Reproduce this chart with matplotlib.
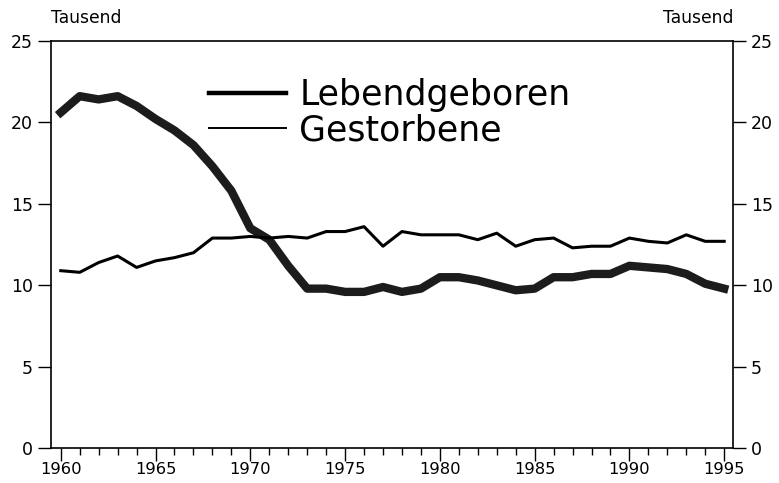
import matplotlib.pyplot as plt
from matplotlib.lines import Line2D
import numpy as np

plt.rcParams['font.family'] = ['DejaVu Sans']

years = np.arange(1960, 1996)
lebendgeboren = [20.6, 21.6, 21.4, 21.6, 21.0, 20.2, 19.5, 18.6, 17.3, 15.8,
                 13.5, 12.8, 11.2, 9.8, 9.8, 9.6, 9.6, 9.9, 9.6, 9.8,
                 10.5, 10.5, 10.3, 10.0, 9.7, 9.8, 10.5, 10.5, 10.7, 10.7,
                 11.2, 11.1, 11.0, 10.7, 10.1, 9.8]
gestorbene = [10.9, 10.8, 11.4, 11.8, 11.1, 11.5, 11.7, 12.0, 12.9, 12.9,
              13.0, 12.9, 13.0, 12.9, 13.3, 13.3, 13.6, 12.4, 13.3, 13.1,
              13.1, 13.1, 12.8, 13.2, 12.4, 12.8, 12.9, 12.3, 12.4, 12.4,
              12.9, 12.7, 12.6, 13.1, 12.7, 12.7]
yticks = [0, 5, 10, 15, 20, 25]
xmajor = [1960, 1965, 1970, 1975, 1980, 1985, 1990, 1995]

fig = plt.figure(figsize=(7.79, 4.83), dpi=100)
ax = fig.add_axes([0.0651, 0.0715, 0.876, 0.8442])

ax.plot(years, lebendgeboren, color='#1c1c1c', linewidth=6)
ax.plot(years, gestorbene, color='black', linewidth=2.2)

ax.set_xlim(1959.47, 1995.47)
ax.set_ylim(0, 25)
ax.set_yticks(yticks)
ax.set_xticks(xmajor)
ax.set_xticks(years, minor=True)
ax.tick_params(axis='y', direction='out', length=9.5, width=1, labelsize=12.5, pad=3.5,
               right=True, labelright=True)
ax.tick_params(axis='x', which='major', direction='out', length=9, width=1,
               labelsize=11.8, pad=0.5)
ax.tick_params(axis='x', which='minor', direction='out', length=5, width=1)
for s in ax.spines.values():
    s.set_linewidth(1.2)

handles = [Line2D([], [], color='black', linewidth=3.2),
           Line2D([], [], color='black', linewidth=1.4)]
ax.legend(handles, ['Lebendgeboren', 'Gestorbene'], loc='upper left',
          bbox_to_anchor=(0.211, 0.943), frameon=False, fontsize=25,
          handlelength=2.24, handletextpad=0.37, labelspacing=0.04, borderaxespad=0)

fig.text(0.0655, 0.962, 'Tausend', fontsize=12.3, ha='left', va='center')
fig.text(0.941, 0.962, 'Tausend', fontsize=12.3, ha='right', va='center')

fig.savefig('out.png', dpi=100)
